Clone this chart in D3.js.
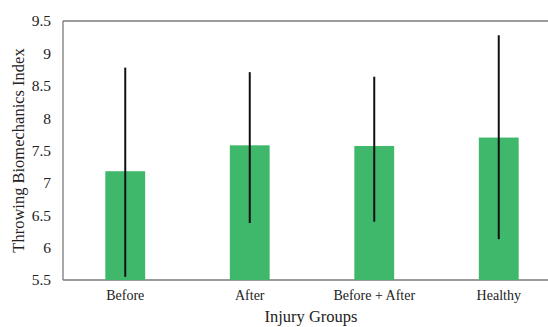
<!DOCTYPE html>
<html>
<head>
<meta charset="utf-8">
<script src="https://cdn.jsdelivr.net/npm/d3@7"></script>
<style>
  body { margin: 0; background: #fff; }
  svg { display: block; font-family: "Liberation Serif", "Times New Roman", serif; }
</style>
</head>
<body>
<svg id="chart" width="548" height="327"></svg>
<script>
var groups = ['Before', 'After', 'Before + After', 'Healthy'];
var means = [7.18, 7.58, 7.57, 7.70];
var errLow = [5.55, 6.38, 6.40, 6.13];
var errHigh = [8.78, 8.71, 8.64, 9.28];
var yTicks = [5.5, 6, 6.5, 7, 7.5, 8, 8.5, 9, 9.5];

var svg = d3.select('#chart');
var margin = {top: 21, left: 63, bottom: 47};
var plotW = 498;
var plotH = 327 - margin.top - margin.bottom;

var x = d3.scaleBand()
    .domain(groups)
    .range([margin.left, margin.left + plotW])
    .paddingInner(0.68)
    .paddingOuter(0.34);

var y = d3.scaleLinear()
    .domain([5.5, 9.5])
    .range([margin.top + plotH, margin.top]);

// frame: left, top, bottom (right edge is cropped off)
var frame = svg.append('g').attr('stroke', '#7a7a7a').attr('stroke-width', 1.3);
frame.append('line')
    .attr('x1', margin.left).attr('x2', margin.left)
    .attr('y1', y(5.5)).attr('y2', y(9.5));
frame.append('line')
    .attr('x1', margin.left).attr('x2', 548)
    .attr('y1', y(9.5)).attr('y2', y(9.5));

svg.selectAll('rect.bar')
    .data(groups)
  .enter().append('rect')
    .classed('bar', true)
    .attr('x', function(d) { return x(d); })
    .attr('width', x.bandwidth())
    .attr('y', function(d, i) { return y(means[i]); })
    .attr('height', function(d, i) { return y(5.5) - y(means[i]); })
    .attr('fill', '#40b86c');

frame.append('line')
    .attr('x1', margin.left).attr('x2', 548)
    .attr('y1', y(5.5)).attr('y2', y(5.5));

svg.selectAll('line.err')
    .data(groups)
  .enter().append('line')
    .classed('err', true)
    .attr('x1', function(d) { return x(d) + x.bandwidth() / 2; })
    .attr('x2', function(d) { return x(d) + x.bandwidth() / 2; })
    .attr('y1', function(d, i) { return y(errLow[i]); })
    .attr('y2', function(d, i) { return y(errHigh[i]); })
    .attr('stroke', '#111')
    .attr('stroke-width', 2);

var yAxis = d3.axisLeft(y)
    .tickValues(yTicks)
    .tickFormat(d3.format('~g'))
    .tickSize(0)
    .tickPadding(12);
var gy = svg.append('g')
    .attr('transform', 'translate(' + margin.left + ',0)')
    .call(yAxis);
gy.select('.domain').remove();
gy.selectAll('text')
    .attr('font-family', '"Liberation Serif", serif')
    .attr('font-size', 15.5)
    .attr('fill', '#222');

var xAxis = d3.axisBottom(x).tickSize(0).tickPadding(10);
var gx = svg.append('g')
    .attr('transform', 'translate(0,' + y(5.5) + ')')
    .call(xAxis);
gx.select('.domain').remove();
gx.selectAll('text')
    .attr('font-family', '"Liberation Serif", serif')
    .attr('font-size', 14)
    .attr('fill', '#222');

svg.append('text')
    .attr('x', 311)
    .attr('y', 322)
    .attr('text-anchor', 'middle')
    .attr('font-size', 16.5)
    .attr('fill', '#222')
    .text('Injury Groups');

svg.append('text')
    .attr('transform', 'translate(24,' + (margin.top + plotH / 2) + ') rotate(-90)')
    .attr('text-anchor', 'middle')
    .attr('font-size', 16.5)
    .attr('fill', '#222')
    .text('Throwing Biomechanics Index');
</script>
</body>
</html>
